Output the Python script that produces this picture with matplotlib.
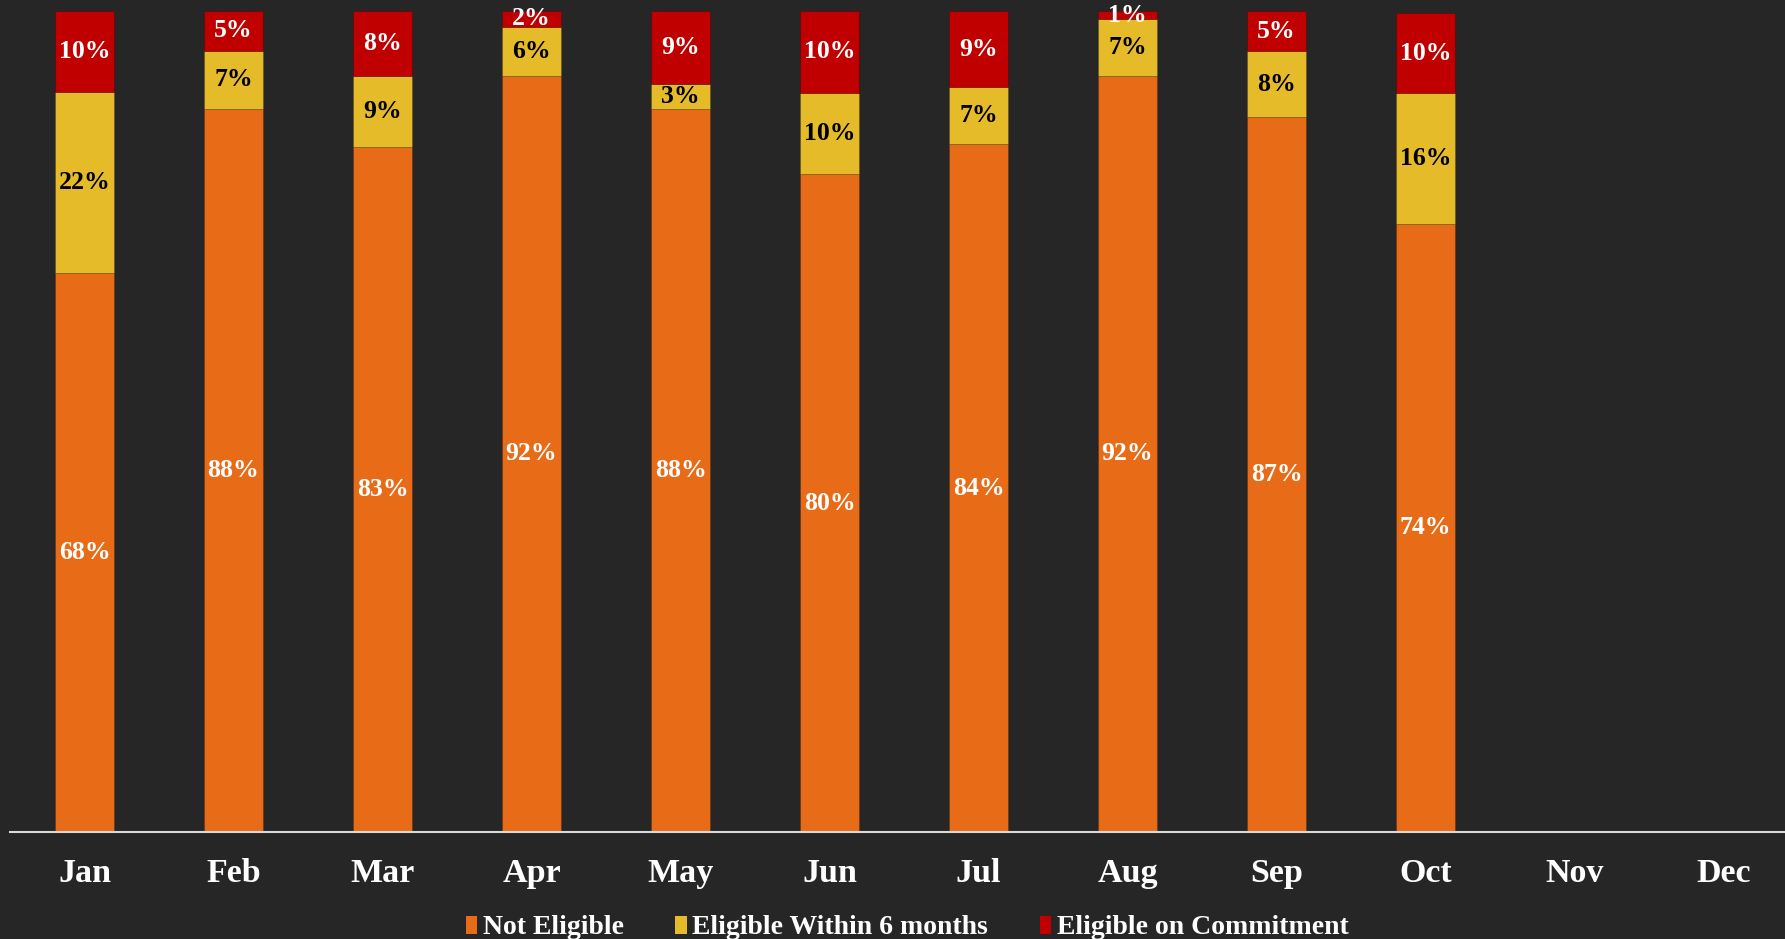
import matplotlib
matplotlib.use("Agg")
import matplotlib.pyplot as plt
from matplotlib.patches import Patch

months = ["Jan", "Feb", "Mar", "Apr", "May", "Jun", "Jul", "Aug", "Sep", "Oct", "Nov", "Dec"]
not_eligible = [68.1, 88.1, 83.4, 92.1, 88.1, 80.1, 83.8, 92.1, 87.1, 74.1]
within_6m = [22.0, 7.0, 8.7, 6.0, 3.0, 9.95, 6.9, 6.9, 8.0, 15.9]
on_commit = [9.95, 4.95, 7.9, 1.95, 8.9, 9.95, 9.3, 1.0, 4.9, 9.7]
series_names = ["Not Eligible", "Eligible Within 6 months", "Eligible on Commitment"]

BG = "#262626"
colors = ["#E86B18", "#E6BB2A", "#C00000"]
label_colors = ["white", "black", "white"]
FONT = ["Liberation Serif", "DejaVu Serif"]

W, H = 1785, 939
fig = plt.figure(figsize=(W / 100, H / 100), dpi=100)
fig.patch.set_facecolor(BG)
ax = fig.add_axes([10 / W, (H - 832) / H, 1788 / W, (832 - 11) / H])
ax.set_facecolor(BG)

x = list(range(len(months)))
n = len(not_eligible)
bottom = [0.0] * n
for vals, col, lc in zip([not_eligible, within_6m, on_commit], colors, label_colors):
    bars = ax.bar(x[:n], vals, width=0.4, bottom=bottom, color=col,
                  edgecolor="#00000030", linewidth=0.6)
    for b, v, bt in zip(bars, vals, bottom):
        ax.text(b.get_x() + b.get_width() / 2, bt + v / 2, f"{v:.0f}%",
                ha="center", va="center", color=lc, fontsize=18.5,
                fontweight="bold", family=FONT)
    bottom = [b0 + v for b0, v in zip(bottom, vals)]

ax.set_xlim(-0.5, 11.5)
ax.set_ylim(0, 100)
ax.set_xticks(x)
ax.set_xticklabels(months, fontsize=24.5, fontweight="bold", color="white", family=FONT)
ax.tick_params(axis="x", length=0, pad=19)
ax.set_yticks([])
for s in ["top", "left", "right"]:
    ax.spines[s].set_visible(False)
ax.spines["bottom"].set_color("#D9D9D9")
ax.spines["bottom"].set_linewidth(1.5)

handles = [Patch(facecolor=c, edgecolor="none") for c in colors]
leg = fig.legend(handles, series_names, loc="center", bbox_to_anchor=(907 / W, 1 - 928 / H),
                 ncol=3, frameon=False, handlelength=0.42, handleheight=0.6,
                 handletextpad=0.2, columnspacing=1.85,
                 prop={"family": FONT, "size": 20, "weight": "bold"})
for t in leg.get_texts():
    t.set_color("white")

fig.savefig("out.png", dpi=100, facecolor=BG)
